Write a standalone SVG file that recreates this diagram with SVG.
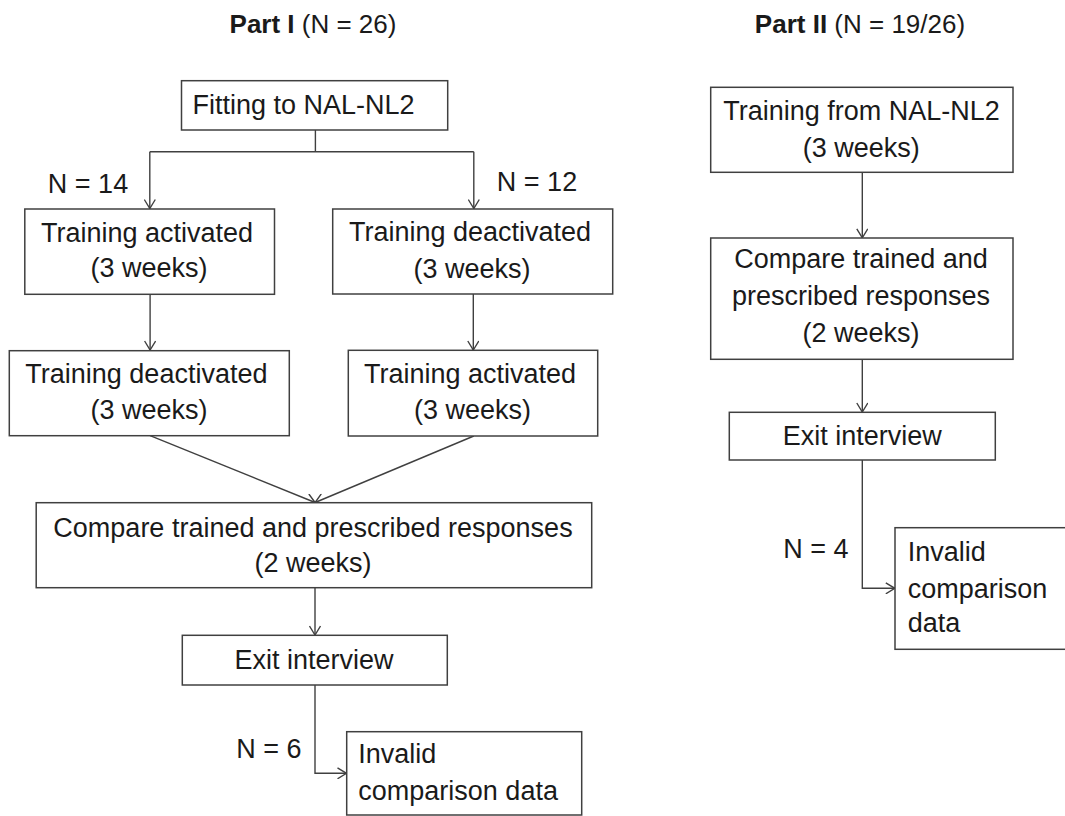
<svg xmlns="http://www.w3.org/2000/svg" width="1065" height="816" viewBox="0 0 1065 816">
<style>
.box{fill:#fff;stroke:#404040;stroke-width:1.5}
.t{font-family:"Liberation Sans",Arial,sans-serif;font-size:27px;fill:#1a1a1a}
.c{text-anchor:middle}
.h{font-family:"Liberation Sans",Arial,sans-serif;font-size:26px;fill:#1a1a1a;text-anchor:middle}
.ln{fill:none;stroke:#404040;stroke-width:1.4}
</style>
<defs>
<marker id="arr" viewBox="0 0 10 12" refX="10" refY="6" markerWidth="10" markerHeight="12" markerUnits="userSpaceOnUse" orient="auto">
<path d="M1,0.5 L10,6 L1,11.5" fill="none" stroke="#404040" stroke-width="1.4"/>
</marker>
</defs>
<rect width="1065" height="816" fill="#fff"/>
<text class="h" x="313" y="33"><tspan font-weight="bold">Part I</tspan> (N = 26)</text>
<text class="h" x="860" y="33"><tspan font-weight="bold">Part II</tspan> (N = 19/26)</text>
<g id="connectors">
<path class="ln" d="M315.4,130 V151.7"/>
<path class="ln" d="M149.8,151.7 H473.8"/>
<path class="ln" d="M149.8,151.7 V208.5" marker-end="url(#arr)"/>
<path class="ln" d="M473.8,151.7 V208.5" marker-end="url(#arr)"/>
<path class="ln" d="M150.1,294.3 V350" marker-end="url(#arr)"/>
<path class="ln" d="M473.3,294 V350" marker-end="url(#arr)"/>
<path class="ln" d="M150.1,435.7 L315.1,502.5" marker-end="url(#arr)"/>
<path class="ln" d="M473.8,436 L315.1,502.5" marker-end="url(#arr)"/>
<path class="ln" d="M315,587.7 V635" marker-end="url(#arr)"/>
<path class="ln" d="M315,685 V773.3 H346.5" marker-end="url(#arr)"/>
<path class="ln" d="M862.3,172.3 V237.8" marker-end="url(#arr)"/>
<path class="ln" d="M862.3,359.3 V412" marker-end="url(#arr)"/>
<path class="ln" d="M862.3,460 V588.3 H894.8" marker-end="url(#arr)"/>
<text class="t c" x="88" y="193">N = 14</text>
<text class="t c" x="537" y="191">N = 12</text>
<text class="t c" x="269" y="758">N = 6</text>
<text class="t c" x="816" y="558">N = 4</text>
</g>
<g id="fitting">
<rect class="box" x="181.5" y="80.7" width="266.2" height="49.3"/>
<text class="t c" x="303.5" y="114.3">Fitting to NAL-NL2</text>
</g>
<g id="train-act-1">
<rect class="box" x="24.8" y="209" width="249.7" height="85.3"/>
<text class="t c" x="147" y="241.7">Training activated</text>
<text class="t c" x="149" y="277">(3 weeks)</text>
</g>
<g id="train-deact-1">
<rect class="box" x="332.7" y="209" width="280" height="85"/>
<text class="t c" x="470" y="241">Training deactivated</text>
<text class="t c" x="472" y="277.5">(3 weeks)</text>
</g>
<g id="train-deact-2">
<rect class="box" x="9.3" y="350.7" width="280" height="85"/>
<text class="t c" x="146.4" y="383">Training deactivated</text>
<text class="t c" x="149" y="419">(3 weeks)</text>
</g>
<g id="train-act-2">
<rect class="box" x="348.3" y="350.3" width="249.4" height="85.7"/>
<text class="t c" x="470" y="382.5">Training activated</text>
<text class="t c" x="472.5" y="419">(3 weeks)</text>
</g>
<g id="compare-1">
<rect class="box" x="36.2" y="502.7" width="555.5" height="85"/>
<text class="t c" x="313" y="536.7">Compare trained and prescribed responses</text>
<text class="t c" x="313" y="571.7">(2 weeks)</text>
</g>
<g id="exit-1">
<rect class="box" x="182.3" y="635.3" width="265" height="49.7"/>
<text class="t c" x="314" y="669">Exit interview</text>
</g>
<g id="invalid-1">
<rect class="box" x="346.7" y="731.7" width="235" height="83.3"/>
<text class="t" x="358.3" y="763.3">Invalid</text>
<text class="t" x="358.3" y="800">comparison data</text>
</g>
<g id="train-from">
<rect class="box" x="710.7" y="87.3" width="302.3" height="85"/>
<text class="t c" x="861.5" y="120">Training from NAL-NL2</text>
<text class="t c" x="861.3" y="156.7">(3 weeks)</text>
</g>
<g id="compare-2">
<rect class="box" x="710.7" y="238" width="302.3" height="121.3"/>
<text class="t c" x="861" y="268.3">Compare trained and</text>
<text class="t c" x="861" y="305">prescribed responses</text>
<text class="t c" x="861" y="341.7">(2 weeks)</text>
</g>
<g id="exit-2">
<rect class="box" x="729.3" y="412.3" width="266" height="47.7"/>
<text class="t c" x="862.3" y="445">Exit interview</text>
</g>
<g id="invalid-2">
<rect class="box" x="895" y="527.7" width="180" height="121.6"/>
<text class="t" x="907.7" y="561">Invalid</text>
<text class="t" x="907.7" y="598.3">comparison</text>
<text class="t" x="907.7" y="631.7">data</text>
</g>
</svg>
